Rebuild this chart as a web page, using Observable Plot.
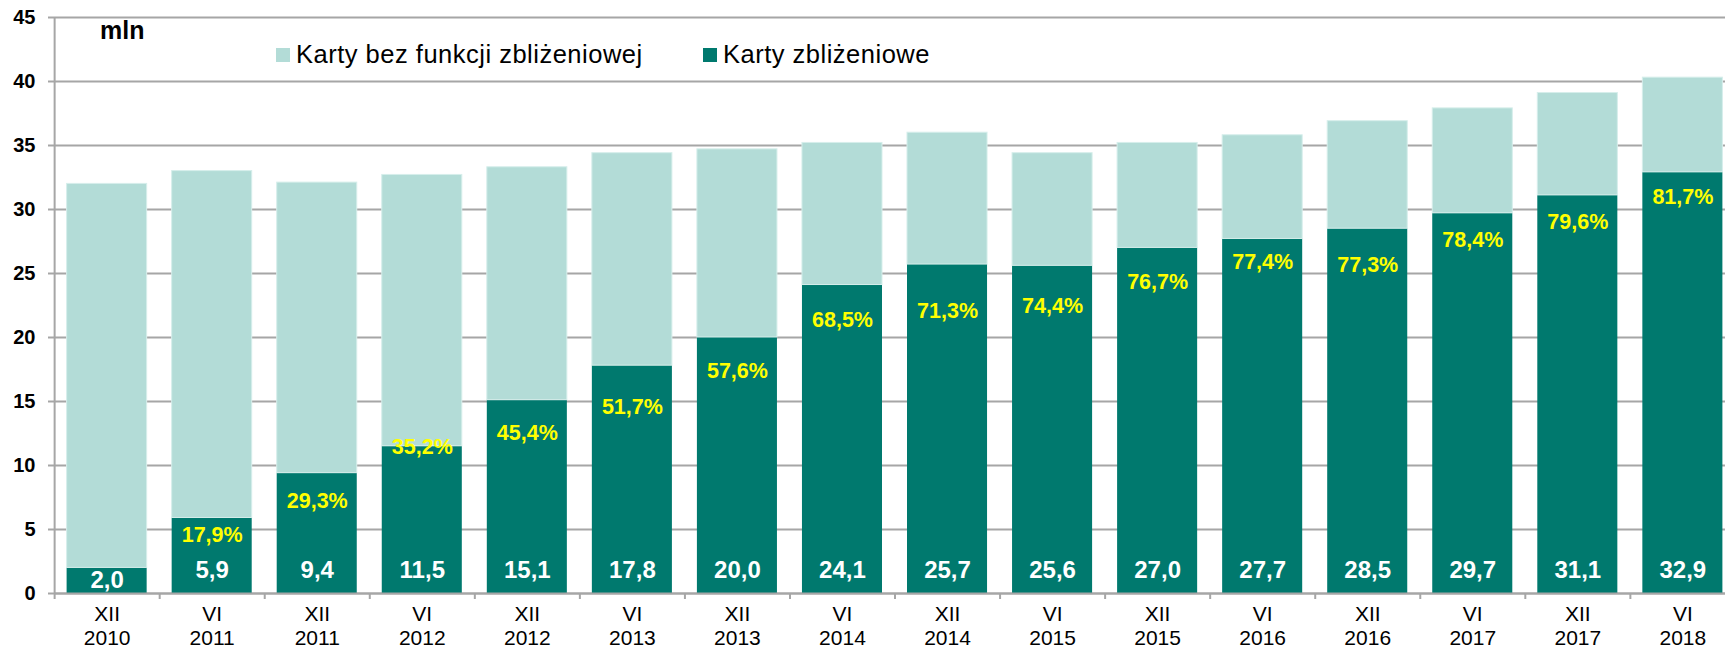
<!DOCTYPE html>
<html><head><meta charset="utf-8">
<script src="https://cdn.jsdelivr.net/npm/d3@7"></script>
<script src="https://cdn.jsdelivr.net/npm/@observablehq/plot@0.6"></script>
<style>
body{margin:0;background:#fff;}
#wrap{position:relative;width:1725px;height:653px;font-family:"Liberation Sans",Arial,sans-serif;color:#000;overflow:hidden;}
#wrap svg{position:absolute;left:0;top:0;}
.unit{position:absolute;left:100px;top:16px;font-weight:bold;font-size:25px;}
.leg{position:absolute;top:40px;font-size:25.5px;letter-spacing:0.5px;display:flex;align-items:center;white-space:nowrap;}
.sw{width:14px;height:14px;margin-right:6px;display:inline-block;}
</style></head><body>
<div id="wrap"></div>
<script>
const months = ["XII","VI","XII","VI","XII","VI","XII","VI","XII","VI","XII","VI","XII","VI","XII","VI"];
const years = ["2010","2011","2011","2012","2012","2013","2013","2014","2014","2015","2015","2016","2016","2017","2017","2018"];
const contactless = [2.0,5.9,9.4,11.5,15.1,17.8,20.0,24.1,25.7,25.6,27.0,27.7,28.5,29.7,31.1,32.9];
const nonContactless = [30.0,27.1,22.7,21.2,18.2,16.6,14.7,11.1,10.3,8.8,8.2,8.1,8.4,8.2,8.0,7.4];
const valueLabels = ["2,0","5,9","9,4","11,5","15,1","17,8","20,0","24,1","25,7","25,6","27,0","27,7","28,5","29,7","31,1","32,9"];
const shareLabels = [null,"17,9%","29,3%","35,2%","45,4%","51,7%","57,6%","68,5%","71,3%","74,4%","76,7%","77,4%","77,3%","78,4%","79,6%","81,7%"];
const shareLabelLevel = [null,4.55,7.22,11.43,12.54,14.60,17.35,21.39,22.08,22.42,24.31,25.86,25.69,27.58,29.04,30.93];
const yTicks = [0,5,10,15,20,25,30,35,40,45];
const seriesNames = ["Karty bez funkcji zbliżeniowej","Karty zbliżeniowe"];
const colors = ["#B3DCD7","#00796E"];

const cats = months.map((m,i)=>m+" "+years[i]);
const data = cats.map((c,i)=>({cat:c, dark:contactless[i], light:nonContactless[i], val:valueLabels[i], share:shareLabels[i], lvl:shareLabelLevel[i]}));

const W = 1725, H = 653;
const grid = "#A6A6A6";
const chart = Plot.plot({
  width: W, height: H,
  marginTop: 17, marginBottom: 60, marginLeft: 54, marginRight: 0,
  style: {fontFamily: '"Liberation Sans", Arial, sans-serif', color: "#000", background: "#fff", overflow: "visible"},
  x: {domain: cats, range: [54, 1735], paddingInner: 0.238, paddingOuter: 0.12, align: 0.5, round: false, label: null},
  y: {domain: [0, 45], label: null},
  marks: [
    Plot.gridY(yTicks, {stroke: grid, strokeOpacity: 1, strokeWidth: 2}),
    Plot.barY(data, {x: "cat", y1: 0, y2: "dark", fill: colors[1]}),
    Plot.barY(data, {x: "cat", y1: "dark", y2: d => d.dark + d.light, fill: colors[0], stroke: "#d6eeeb", strokeWidth: 1}),
    Plot.ruleY([0], {stroke: grid, strokeWidth: 2}),
    Plot.ruleX([cats[0]], {y1: 0, y2: 45, dx: -52.5, stroke: grid, strokeWidth: 2}),
    Plot.axisY(yTicks, {tickSize: 6, tickPadding: 13, stroke: grid, strokeWidth: 2, fontSize: 20, fontWeight: "bold", fill: "#000", tickFormat: d => String(d)}),
    Plot.axisX(cats, {tickSize: 6, dx: -52.5, stroke: grid, strokeWidth: 2, tickFormat: () => ""}),
    Plot.axisX(cats, {tickSize: 0, tickPadding: 11, fontSize: 21, lineHeight: 1.12, fill: "#000", tickFormat: d => d.replace(" ", "\n")}),
    Plot.text(data, {x: "cat", y: d => Math.min(d.dark / 2, 1.85), text: "val", fill: "#fff", fontSize: 24, fontWeight: "bold"}),
    Plot.text(data.filter(d => d.share), {x: "cat", y: "lvl", text: "share", fill: "#FFFF00", fontSize: 21.5, fontWeight: "bold"})
  ]
});
const wrap = document.getElementById("wrap");
wrap.appendChild(chart);
const unit = document.createElement("div");
unit.className = "unit"; unit.textContent = "mln";
wrap.appendChild(unit);
const legPos = [276, 703];
[0,1].forEach(i => {
  const l = document.createElement("div");
  l.className = "leg"; l.style.left = legPos[i] + "px";
  l.innerHTML = `<span class="sw" style="background:${colors[i]}"></span><span>${seriesNames[i]}</span>`;
  wrap.appendChild(l);
});
</script>
</body></html>
